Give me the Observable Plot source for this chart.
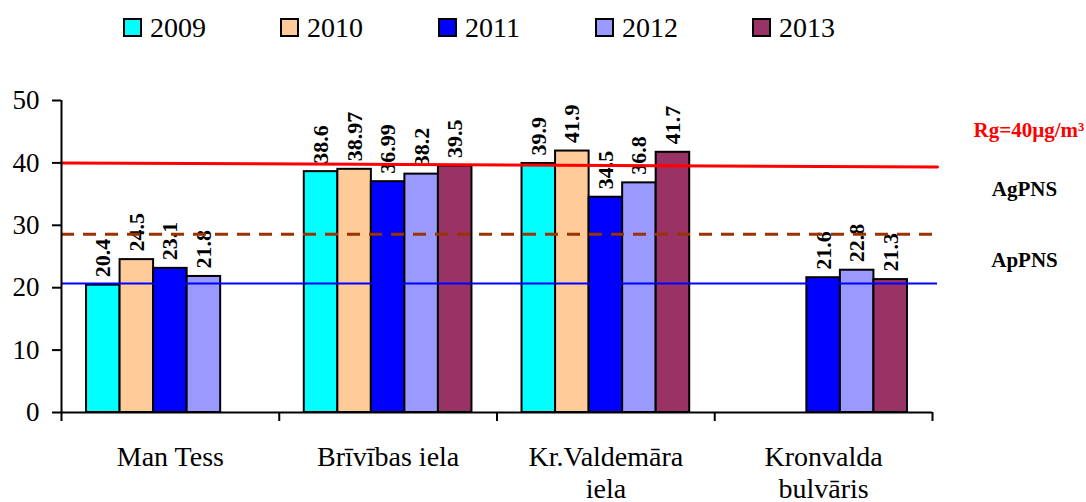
<!DOCTYPE html>
<html><head><meta charset="utf-8">
<script src="https://cdn.jsdelivr.net/npm/d3@7"></script>
<script src="https://cdn.jsdelivr.net/npm/@observablehq/plot@0.6"></script>
<style>
body{margin:0;background:#fff;font-family:"Liberation Serif","Times New Roman",serif;}
#legend{position:relative;height:50px;width:1086px;}
.item{position:absolute;top:12.5px;display:flex;align-items:center;font-size:28px;line-height:30px;color:#000;}
.sw{width:15px;height:15px;border:2px solid #000;margin-right:8px;}
</style></head><body>
<div id="legend"></div><div id="chart"></div>
<script>
// ---- data ----
const categories = ["Man Tess", "Brīvības iela", "Kr.Valdemāra\niela", "Kronvalda\nbulvāris"];
const years = ["2009", "2010", "2011", "2012", "2013"];
const colors = ["#00FFFF", "#FFCC99", "#0000FF", "#9999FF", "#993366"];
const v2009 = [20.4, 38.6, 39.9, null];
const v2010 = [24.5, 38.97, 41.9, null];
const v2011 = [23.1, 36.99, 34.5, 21.6];
const v2012 = [21.8, 38.2, 36.8, 22.8];
const v2013 = [null, 39.5, 41.7, 21.3];
const yTicks = [0, 10, 20, 30, 40, 50];
const rgLine = [40, 39.35];     // Rg limit line, start / end value
const agValue = 28.55;          // AgPNS
const apValue = 20.67;          // ApPNS
const rgLabel = "Rg=40µg/m³";
const rgLabelValue = 45.2;
const pnsLabels = ["AgPNS", "ApPNS"];
const pnsLabelValues = [35.7, 24.45];

// ---- layout constants ----
const GROUP_PAD = 0.115, BAR_W = 0.154, LINE_END = 4.023;
const legendLeft = [123, 280, 438, 595, 752];

const series = [v2009, v2010, v2011, v2012, v2013];
const rows = [];
categories.forEach((c, i) => years.forEach((yr, j) => {
  const v = series[j][i];
  if (v != null) rows.push({cat: i, j, year: yr, value: v});
}));

// legend
const lg = document.getElementById("legend");
years.forEach((yr, j) => {
  const it = document.createElement("div");
  it.className = "item";
  it.style.left = legendLeft[j] + "px";
  const sw = document.createElement("div");
  sw.className = "sw"; sw.style.background = colors[j];
  it.appendChild(sw);
  const t = document.createElement("span"); t.textContent = yr;
  it.appendChild(t);
  lg.appendChild(it);
});

const font = '"Liberation Serif","Times New Roman",serif';
const chart = Plot.plot({
  width: 1086, height: 452,
  marginLeft: 61, marginRight: 154, marginTop: 50, marginBottom: 90,
  style: {fontFamily: font, fontSize: "27px", color: "#000", background: "#fff", overflow: "visible"},
  x: {domain: [0, 4], axis: null},
  y: {domain: [0, 50], axis: null},
  color: {domain: years, range: colors},
  marks: [
    Plot.rect(rows, {
      x1: d => d.cat + GROUP_PAD + d.j * BAR_W,
      x2: d => d.cat + GROUP_PAD + (d.j + 1) * BAR_W,
      y1: 0, y2: "value", fill: "year", stroke: "#000", strokeWidth: 2
    }),
    Plot.text(rows, {
      x: d => d.cat + GROUP_PAD + (d.j + 0.5) * BAR_W, y: "value",
      text: d => String(d.value), rotate: -90, textAnchor: "start", lineAnchor: "middle",
      dy: -8, fontWeight: "bold", fontSize: 22, fill: "#000"
    }),
    Plot.line(rgLine.map((v, k) => ({x: k === 0 ? 0 : LINE_END, y: v})), {x: "x", y: "y", stroke: "#FF0000", strokeWidth: 3}),
    Plot.ruleY([agValue], {x1: 0, x2: LINE_END, stroke: "#993300", strokeWidth: 3, strokeDasharray: "13,9"}),
    Plot.ruleY([apValue], {x1: 0, x2: LINE_END, stroke: "#0000FF", strokeWidth: 2}),
    Plot.ruleX([0], {y1: 0, y2: 50, stroke: "#000", strokeWidth: 2}),
    Plot.ruleY([0], {x1: 0, x2: 4, stroke: "#000", strokeWidth: 2}),
    Plot.axisY(yTicks, {tickSize: 9, tickPadding: 13, fontSize: 27, strokeWidth: 2, fill: "#000", label: null}),
    Plot.axisX(d3.range(5), {tickSize: 9, tickFormat: () => "", strokeWidth: 2, label: null}),
    Plot.axisX(categories.map((c, i) => i + 0.5), {
      tickSize: 0, tickPadding: 31, fontSize: 28, lineHeight: 1.14, fill: "#000", label: null,
      tickFormat: d => categories[Math.floor(d)]
    }),
    Plot.text([rgLabel], {
      x: 4, y: [rgLabelValue], text: d => d, fontWeight: "bold", fontSize: 21,
      lineAnchor: "middle", textAnchor: "start", dx: 41, fill: "#FF0000"
    }),
    Plot.text(pnsLabels, {
      x: 4, y: pnsLabelValues, text: d => d, fontWeight: "bold", fontSize: 21,
      lineAnchor: "middle", textAnchor: "middle", dx: 92, fill: "#000"
    })
  ]
});
document.getElementById("chart").appendChild(chart);
</script>
</body></html>
